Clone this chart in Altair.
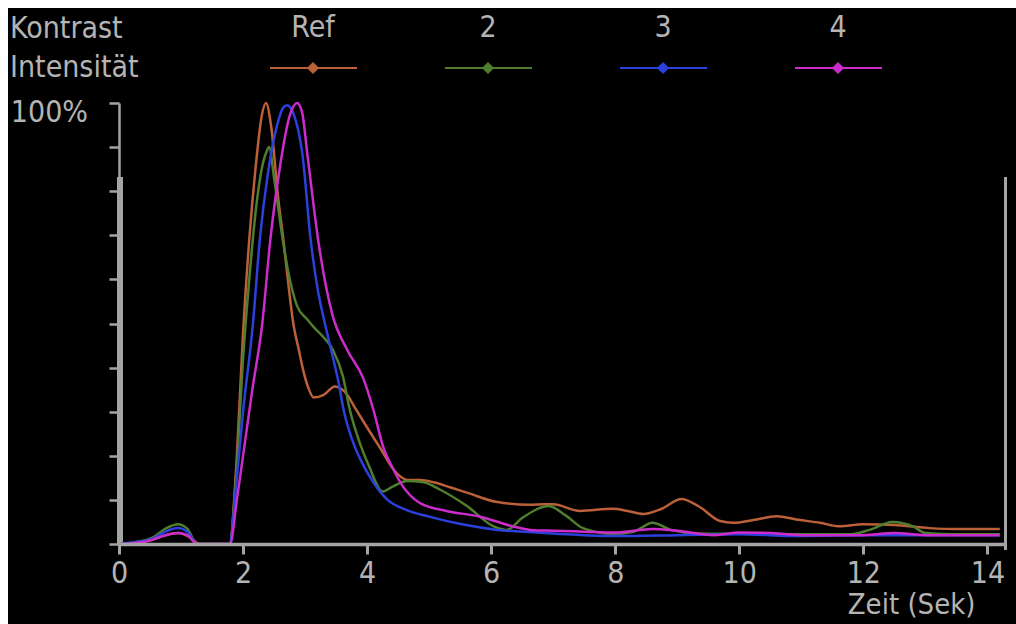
import altair as alt
import pandas as pd

# Series shown in the legend and their colours
series_names = ["Ref", "2", "3", "4"]
series_colors = ["#bb6038", "#4f7e2e", "#2b40dc", "#cc2ccc"]

# Time (s) and contrast intensity (% of peak) per region
t_ref = [0, 0.3, 0.55, 0.75, 0.95, 1.15, 1.3, 1.78, 1.9, 2.0, 2.1, 2.2, 2.3, 2.37, 2.45,
         2.57, 2.65, 2.73, 2.81, 2.9, 2.96, 3.05, 3.14, 3.3, 3.48, 3.67, 3.8, 3.93, 4.2,
         4.48, 4.65, 4.85, 5.07, 5.35, 5.62, 6.1, 6.63, 6.84, 7.0, 7.43, 7.96, 8.2, 8.45,
         8.75, 9.07, 9.35, 9.69, 9.9, 10.25, 10.6, 10.95, 11.3, 11.62, 11.99, 12.5, 13.07,
         13.5, 14.2]
pct_ref = [0, 0.3, 1, 2, 2.5, 1.5, 0, 0, 20, 48, 69, 85, 97, 100, 95,
           78, 69, 59, 50, 44, 40, 35.5, 33.2, 33.8, 35.7, 34, 31, 28, 22,
           16, 14.5, 14.5, 14, 12.8, 11.6, 9.5, 8.9, 9, 9, 7.5, 8, 7.5, 6.8,
           8, 10.2, 8.5, 5.2, 4.8, 5.5, 6.3, 5.5, 4.8, 4, 4.5, 4.3, 3.6,
           3.4, 3.4]

t_2 = [0, 0.3, 0.55, 0.75, 0.95, 1.1, 1.26, 1.78, 1.9, 2.0, 2.1, 2.2, 2.3, 2.38, 2.42,
       2.5, 2.64, 2.73, 2.87, 3.03, 3.15, 3.29, 3.45, 3.61, 3.72, 3.88, 4.03, 4.25, 4.41,
       4.64, 4.91, 5.18, 5.61, 6.04, 6.25, 6.5, 6.93, 7.2, 7.48, 7.95, 8.3, 8.6, 8.9,
       9.3, 10.0, 11.0, 11.8, 12.1, 12.47, 12.8, 13.0, 13.5, 14.2]
pct_2 = [0, 0.5, 1.5, 3.5, 4.5, 3.5, 0, 0, 18, 42, 60, 75, 85, 89, 90,
         83, 69, 61.6, 54, 51, 49, 47, 44, 38, 30.5, 23, 17.7, 11.9, 13,
         14.3, 14, 12.3, 8.6, 4, 3.2, 5.9, 8.6, 6.5, 3.6, 2.3, 2.8, 4.8, 3.2,
         2.4, 2.3, 2.2, 2.2, 3.2, 5, 4, 2.5, 2.2, 2.2]

t_3 = [0, 0.3, 0.55, 0.75, 0.95, 1.1, 1.26, 1.78, 1.9, 2.0, 2.16, 2.27, 2.4, 2.55, 2.65,
       2.71, 2.8, 2.96, 3.09, 3.2, 3.32, 3.42, 3.54, 3.62, 3.76, 3.92, 4.1, 4.33, 4.64,
       5.0, 5.55, 6.1, 6.6, 7.5, 8.0, 9.0, 10.0, 11.0, 12.0, 13.0, 14.2]
pct_3 = [0, 0.5, 1.2, 2.8, 3.6, 2.8, 0, 0, 15, 30, 50, 69, 84, 95, 99,
         99.5, 98, 88, 69, 58, 50, 44, 36.6, 30.5, 23.6, 18.4, 14, 10, 7.7,
         6.2, 4.4, 3.2, 2.7, 2, 1.8, 2, 2.2, 1.8, 2, 2, 2]

t_4 = [0, 0.3, 0.55, 0.75, 0.95, 1.1, 1.26, 1.79, 1.9, 2.0, 2.15, 2.31, 2.44, 2.6, 2.75,
       2.87, 2.95, 3.04, 3.21, 3.44, 3.68, 3.94, 4.1, 4.26, 4.42, 4.58, 4.85, 5.28, 5.82,
       6.35, 6.63, 7.0, 7.5, 8.0, 8.6, 9.0, 9.6, 10.0, 10.5, 11.0, 12.0, 12.5, 13.0, 14.2]
pct_4 = [0, 0.3, 1, 2, 2.5, 2, 0, 0, 10, 20, 35, 50, 69, 86, 97,
         100, 98, 88, 69, 52, 44, 37.5, 30.5, 22, 17, 13, 9.3, 7.5, 6.2,
         4, 3.2, 3, 2.8, 2.6, 3.4, 3, 2, 2.6, 2.5, 2, 2, 2.5, 2, 2]

# Axis ticks
x_ticks = [0, 2, 4, 6, 8, 10, 12, 14]
y_ticks = [0, 10, 20, 30, 40, 50, 60, 70, 80, 90, 100]

W, H = 887, 441
FONT = "DejaVu Sans Condensed, Liberation Sans Narrow, Liberation Sans, sans-serif"
FS = 30
TEXT_GRAY = "#b4b4b4"
AXIS_GRAY = "#a4a4a4"

rows = []
for name, ts, ps in [("Ref", t_ref, pct_ref), ("2", t_2, pct_2),
                     ("3", t_3, pct_3), ("4", t_4, pct_4)]:
    rows += [{"series": name, "t": t, "pct": p} for t, p in zip(ts, ps)]
curves = pd.DataFrame(rows)

x_scale = alt.Scale(domain=[0, 14.3], nice=False, zero=False)
y_scale = alt.Scale(domain=[0, 100], nice=False)
color_scale = alt.Scale(domain=series_names, range=series_colors)

lines = alt.Chart(curves).mark_line(strokeWidth=2.5, interpolate="monotone").encode(
    x=alt.X("t:Q", scale=x_scale, axis=alt.Axis(
        values=x_ticks, format="d", grid=False, zindex=1,
        domainColor=AXIS_GRAY, domainWidth=3.5,
        tickColor=AXIS_GRAY, tickWidth=3, tickSize=10,
        labelFont=FONT, labelFontSize=FS, labelColor=TEXT_GRAY,
        labelBaseline="alphabetic", labelPadding=28, labelFlush=False,
        title="Zeit (Sek)", titleFont=FONT, titleFontSize=29, titleFontWeight="normal",
        titleColor=TEXT_GRAY, titleAlign="right", titleBaseline="alphabetic",
        titleX=856, titleY=69)),
    y=alt.Y("pct:Q", scale=y_scale, axis=alt.Axis(
        values=y_ticks, labels=False, grid=False, title=None, zindex=1,
        domainColor=AXIS_GRAY, domainWidth=2.5,
        tickColor=AXIS_GRAY, tickWidth=2.5, tickSize=10)),
    color=alt.Color("series:N", scale=color_scale, legend=None),
)

one = pd.DataFrame([{"k": 0}])

# heavier lower part of the left frame and the right frame line
left_bar = alt.Chart(one).mark_rect(color=AXIS_GRAY).encode(
    x=alt.value(-2), x2=alt.value(4), y=alt.value(74), y2=alt.value(H + 1))
right_bar = alt.Chart(one).mark_rect(color=AXIS_GRAY).encode(
    x=alt.value(W - 2), x2=alt.value(W + 1), y=alt.value(74), y2=alt.value(H + 6))

# header texts
def label(text, x, y, align="left"):
    return alt.Chart(one).mark_text(
        font=FONT, fontSize=FS, color=TEXT_GRAY,
        align=align, baseline="alphabetic").encode(
        x=alt.value(x), y=alt.value(y), text=alt.value(text))

header = [
    label("Kontrast", -109, -65),
    label("Intensität", -109, -26),
    label("100%", -31, 19, align="right"),
]

# legend: name above a short line with a diamond
legend_df = pd.DataFrame({"series": series_names, "idx": list(range(len(series_names)))})
legend_base = alt.Chart(legend_df).transform_calculate(
    lx="194 + 175 * datum.idx", lx1="194 + 175 * datum.idx - 43",
    lx2="194 + 175 * datum.idx + 44")
legend_text = legend_base.mark_text(
    font=FONT, fontSize=FS, color=TEXT_GRAY,
    align="center", baseline="alphabetic").encode(
    x=alt.X("lx:Q", scale=None), y=alt.value(-66), text="series:N")
legend_line = legend_base.mark_rule(strokeWidth=2).encode(
    x=alt.X("lx1:Q", scale=None), x2="lx2:Q", y=alt.value(-35),
    color=alt.Color("series:N", scale=color_scale, legend=None))
legend_mark = legend_base.mark_point(shape="diamond", filled=True, size=150, opacity=1).encode(
    x=alt.X("lx:Q", scale=None), y=alt.value(-35),
    color=alt.Color("series:N", scale=color_scale, legend=None))

# white page edge at top and left
edge_top = alt.Chart(one).mark_rect(color="white").encode(
    x=alt.value(-119), x2=alt.value(W + 10), y=alt.value(-103), y2=alt.value(-95))
edge_left = alt.Chart(one).mark_rect(color="white").encode(
    x=alt.value(-119), x2=alt.value(-111), y=alt.value(-103), y2=alt.value(H + 80))

chart = alt.layer(
    left_bar, right_bar, lines, *header, legend_line, legend_mark, legend_text,
    edge_top, edge_left,
).properties(
    width=W, height=H,
    autosize=alt.AutoSizeParams(type="none"),
    padding={"left": 119, "top": 103, "right": 10, "bottom": 80},
).configure(
    background="black",
).configure_view(stroke=None)

chart.save("out.html", embed_options={"renderer": "svg", "actions": False})
